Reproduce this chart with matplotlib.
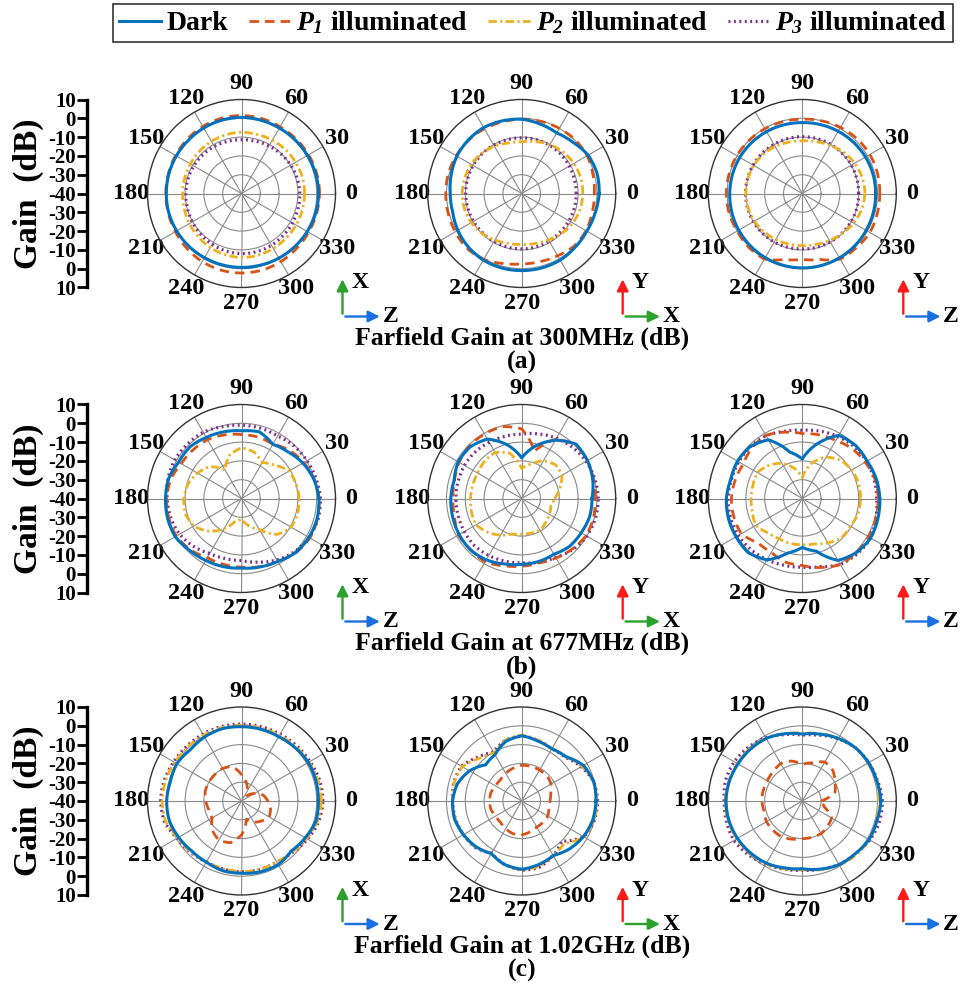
import numpy as np
import matplotlib
matplotlib.use("Agg")
import matplotlib.pyplot as plt
from matplotlib.lines import Line2D
from matplotlib.patches import FancyArrowPatch

plt.rcParams['font.family'] = ['Liberation Serif', 'DejaVu Serif']
plt.rcParams['font.weight'] = 'bold'
plt.rcParams['mathtext.fontset'] = 'custom'
plt.rcParams['mathtext.it'] = 'Liberation Serif:italic:bold'
plt.rcParams['mathtext.rm'] = 'Liberation Serif:italic:bold'
plt.rcParams['mathtext.bf'] = 'Liberation Serif:italic:bold'

# ---------------- data (gain in dB, angles 0..345 step 15) ----------------
angles_deg = list(range(0, 360, 15))

series_names = ['Dark', r'$P_1$ illuminated', r'$P_2$ illuminated', r'$P_3$ illuminated']
captions = ['Farfield Gain at 300MHz (dB)', 'Farfield Gain at 677MHz (dB)', 'Farfield Gain at 1.02GHz (dB)']
panel_tags = ['(a)', '(b)', '(c)']
theta_labels = ['0', '30', '60', '90', '120', '150', '180', '210', '240', '270', '300', '330']
gain_ticks = ['10', '0', '-10', '-20', '-30', '-40', '-30', '-20', '-10', '0', '10']
axis_up = ['X', 'Y', 'Y']
axis_right = ['Z', 'X', 'Z']

# 300 MHz
dark_300_1 = [1, 0.8, 0.5, 0.3, 0.2, 0.3, 0.5, 0.4, 0.2, 0, 0, 0, 0, 0, -0.2, -0.4, -0.6, -0.7, -0.7, -0.6, -0.3, 0, 0.4, 0.8]
p1_300_1 = [1.5, 1.4, 1.2, 1, 1, 1.3, 1.5, 1.4, 1.2, 0.8, 0.5, 0.3, 0.2, 0.3, 0.6, 1.2, 1.8, 2.2, 2.3, 2.2, 1.8, 1.4, 1.2, 1.3]
p2_300_1 = [-6.5, -6.5, -6.8, -7, -7.3, -7.5, -7.5, -7.7, -8, -8.3, -8.6, -8.7, -8.7, -8.5, -8, -7.5, -6.8, -6.3, -6, -6, -6.2, -6.5, -6.5, -6.5]
p3_300_1 = [-9, -9.3, -9.8, -10.3, -10.8, -11.2, -11.4, -11.3, -11.1, -10.9, -10.7, -10.5, -10.4, -10.2, -9.8, -9.3, -8.8, -8.3, -8, -8, -8.2, -8.5, -8.7, -8.9]

dark_300_2 = [1.2, 1.5, 0.8, -1.5, -2.8, -1.8, -0.5, 0, 0.5, 0.2, -0.2, -1.2, -2, -2, -0.8, 0.2, 0.9, 1, 1, 1, 0.9, 0.3, 0, 0.4]
p1_300_2 = [-1.4, -0.8, 0.2, 0.3, 0, -0.3, -0.5, -0.6, -0.3, 0, 0.2, 0.4, 0.4, 0.5, 0.8, 1.2, 0.5, -1.5, -2.6, -2.5, -1.8, -0.5, -0.5, -1.2]
p2_300_2 = [-7.5, -7.5, -8, -8.8, -10, -11.5, -12.5, -12.2, -11, -9.8, -9, -8.6, -8.4, -8.5, -9, -10, -11.5, -12.5, -13, -12.5, -11.5, -10, -8.6, -7.8]
p3_300_2 = [-11, -11, -10.8, -10.5, -10.4, -10.3, -10.4, -10.4, -10.3, -10.2, -10.2, -10.2, -10.2, -10.3, -10.4, -10.5, -10.5, -10.5, -10.5, -10.6, -10.8, -11, -11, -11]

dark_300_3 = [-1, -1, -1.2, -1.5, -1.8, -2.1, -2.3, -2.2, -2, -1.8, -1.6, -1.5, -1.4, -1.2, -1, -0.8, -0.6, -0.5, -0.4, -0.4, -0.5, -0.6, -0.8, -0.9]
p1_300_3 = [1.2, 1.4, 1.5, 1.2, 0.6, 0, -0.5, -0.4, -0.2, 0, 0.2, 0.3, 0.4, 0.3, 0, 0.4, 0.3, -3.7, -5, -3.7, 0.3, 0.7, 1.5, 1.3]
p2_300_3 = [-6.7, -7, -7.8, -9, -10.5, -11.5, -12, -11.8, -11.2, -10.6, -10.2, -10, -10, -10.2, -10.6, -11.2, -11.8, -12.2, -12.3, -12, -11.2, -10, -8.5, -7.3]
p3_300_3 = [-10, -10, -9.9, -9.9, -9.8, -9.8, -9.8, -9.8, -9.8, -9.8, -9.8, -9.8, -9.8, -9.9, -10, -10.1, -10.2, -10.4, -10.5, -10.4, -10.3, -10.2, -10.1, -10]

# 677 MHz
dark_677_1 = [1.2, -0.2, -2.3, -5, -6.7, -3.3, -4, -3.3, -2.5, -1.2, -1.4, 0.2, 0.4, 0.7, 0.7, -1, -2, -2.5, -3, -2.3, -1.4, 0.7, 1.4, 1.6]
p1_677_1 = [1.2, 0, -1.8, -3.8, -6.7, -6.2, -6, -5, -3.9, -3.5, -3, -1, -0.2, 0, 0, -1.5, -3.7, -3.7, -3.5, -2.5, -1.4, 0.8, 2, 1.8]
p2_677_1 = [-9.3, -10, -10.7, -15, -18, -14.4, -13, -16, -22.5, -16, -13, -10.5, -9.3, -9, -10.7, -15.4, -21.4, -27.7, -29, -25, -21, -13, -9.5, -9.1]
p3_677_1 = [2, 1, 0.2, -0.5, -1.6, -1.3, -1, -0.5, 0.7, 0.8, 1, 0.5, -0.5, -1, -2, -4, -6.2, -7, -7, -5, -2.3, 0, 1.5, 2.2]

dark_677_2 = [-2.6, -0.9, 0.4, 0.9, -4.2, -11, -18.4, -10.5, -3.5, -1.2, -1, -2.8, -2.3, -2, -1.6, -1.4, -2.3, -4, -5, -5.3, -5.8, -4, -3.5, -2.6]
p1_677_2 = [-1, -0.5, 0.3, 0.5, -3.5, -14, -3, -0.4, -0.4, -0.5, -1.5, -3, -3.5, -3, -1.2, -1.6, -1, -3, -4, -4.5, -3.5, -2, -0.5, -0.5]
p2_677_2 = [-22.5, -19, -15.3, -14.6, -16.8, -21, -24, -15, -11.8, -12, -13, -13, -12.8, -12.3, -12, -14.6, -17.5, -20.5, -21, -21, -20.5, -22, -23, -24]
p3_677_2 = [0.7, 0.3, -0.5, -1.6, -3, -4.5, -5.8, -5.8, -5.5, -5, -4.8, -5, -5, -5, -4.8, -4.5, -5, -5.5, -5.8, -5, -3.8, -1.6, 0, 0.6]

dark_677_3 = [1.2, 0.7, -0.2, 0, -1.2, -10, -19, -14.5, -4, -0.9, -0.2, -0.7, 0.4, 0.7, 0.7, 0.7, -2.3, -10, -14, -11, -2, 0.7, 2, 1.6]
p1_677_3 = [0.4, 0, -1.4, -2.5, -4.4, -5, -5.5, -3.5, -1.2, -2, -3.7, -3, -2.3, -2.3, -2.5, -6.7, -7, -5, -4.4, -2, 0.5, 0.7, 0.7, 0.5]
p2_677_3 = [-9, -9, -9.6, -11.2, -14.6, -20.5, -29, -23.3, -18.4, -15, -12.4, -12.8, -12.8, -12.5, -11.4, -14.2, -15.3, -15.3, -15.4, -15, -12.8, -10.5, -10.4, -9.3]
p3_677_3 = [-0.5, -0.5, -0.5, -1, -2, -3, -3.7, -3, -1.5, -1, -1, -1, -0.5, -0.5, -0.7, -1.5, -2.5, -3.2, -3.5, -2.5, 0.5, 1.5, 2, 0.5]

# 1.02 GHz
dark_102_1 = [0.9, 1, 1, 0.2, -0.5, -0.5, -0.5, -0.2, -0.7, -1.5, -0.3, -0.8, -0.2, -0.2, -1.4, -2.5, -2.5, -1.6, -1.6, -1, -0.9, -2.5, -0.9, 1]
p1_102_1 = [-26, -28, -32, -36, -34, -30, -26, -21, -20, -20, -20, -20, -21, -22, -22, -18, -16, -17, -22, -30, -27, -25, -23, -24]
p2_102_1 = [2.5, 2.2, 1.4, 0.8, 0.3, 0.2, 0.3, 0.4, 0.4, 0.5, 1, 1.8, 2.2, 1.8, -0.8, -1.8, -2.8, -2.7, -2.5, -2.4, -2.7, -1.8, 0, 1.8]
p3_102_1 = [3.3, 3, 2, 1.5, 1, 0.9, 0.9, 1, 1, 1.2, 1.6, 2.5, 3, 2.5, -0.5, -1.5, -2.6, -2.5, -2.3, -2.2, -2.6, -1.5, 0.5, 2.5]

dark_102_2 = [-0.5, -0.3, -2.1, -6.7, -8, -7, -5.3, -7.2, -11.6, -12.8, -7.9, -4.6, -3.2, -3, -4.2, -5.6, -7.7, -5, -3.7, -5, -6.5, -4, -2.1, -0.9]
p1_102_2 = [-25, -24, -22, -21, -21, -21, -21, -22, -23, -24, -24, -23, -23, -23, -24, -24, -23, -22, -22, -23, -24, -24, -24, -25]
p2_102_2 = [0, -0.5, -3, -6.8, -7.8, -6.5, -5, -6.5, -10.5, -8, -3.5, -2.8, -3.2, -3.4, -4.2, -5.2, -7.8, -4.8, -3.4, -4, -6.5, -8, -1.8, -0.3]
p3_102_2 = [0.4, -0.3, -3.5, -7.2, -8, -6.5, -5.3, -6.5, -10, -7, -3, -2.5, -3.2, -3.5, -4.2, -5, -8, -5, -3.2, -3.5, -6.5, -9.8, -1.8, 0]

dark_102_3 = [1.8, 1, 0.7, 0, -1.6, -3.2, -4.4, -3, -1.6, -1, -0.5, 0.2, 0.7, 0.4, -0.2, -1, -1.8, -3.2, -4, -2.5, -0.9, -0.3, 1, 1]
p1_102_3 = [-30, -22, -20, -17, -16, -19, -20.5, -18, -17, -18, -18.5, -18.5, -18.5, -19, -18, -18, -18, -19, -20, -20, -20, -21, -22, -28]
p2_102_3 = [0.5, 1.2, 0.8, 0, -1.5, -3, -4, -3, -1.4, -0.6, 0, 0.5, 1, 0.8, 0.3, -0.6, -1.4, -2.6, -3.5, -2.3, -0.6, 0.5, 1.2, 0.8]
p3_102_3 = [2.6, 1.5, 0.8, 0, -1.8, -3.8, -5, -3.5, -1.2, 0.5, 1.8, 2.3, 1.5, 1.8, 2, 0.5, -1.2, -2.5, -3.2, -2.4, -1, -0.2, 1.5, 2.5]

panels = [
    [(dark_300_1, p1_300_1, p2_300_1, p3_300_1),
     (dark_300_2, p1_300_2, p2_300_2, p3_300_2),
     (dark_300_3, p1_300_3, p2_300_3, p3_300_3)],
    [(dark_677_1, p1_677_1, p2_677_1, p3_677_1),
     (dark_677_2, p1_677_2, p2_677_2, p3_677_2),
     (dark_677_3, p1_677_3, p2_677_3, p3_677_3)],
    [(dark_102_1, p1_102_1, p2_102_1, p3_102_1),
     (dark_102_2, p1_102_2, p2_102_2, p3_102_2),
     (dark_102_3, p1_102_3, p2_102_3, p3_102_3)],
]

# ---------------- styles ----------------
colors = ['#0072BD', '#D95319', '#EDB120', '#7E2F8E']
styles = [dict(ls='-', lw=2.2),
          dict(ls=(0, (3.4, 2.2)), lw=2.0),
          dict(ls=(0, (3.0, 1.2, 0.8, 1.2)), lw=2.0),
          dict(ls=(0, (0.6, 1.1)), lw=2.3)]
arrow_up_col = ['#2ca02c', '#ff1a1a', '#ff1a1a']
arrow_right_col = ['#1a6fe0', '#2ca02c', '#1a6fe0']

W, H = 964, 984
R = 94
col_x = [241.5, 521.7, 802.3]
row_y = [193.5, 498.5, 801.0]

fig = plt.figure(figsize=(W / 100, H / 100), dpi=100)


def fx(px):
    return px / W


def fy(py):
    return 1 - py / H


theta = np.deg2rad(np.array(angles_deg + [360]))

for i in range(3):
    cy = row_y[i]
    for j in range(3):
        cx = col_x[j]
        ax = fig.add_axes([fx(cx - R), fy(cy + R), 2 * R / W, 2 * R / H], projection='polar')
        for k, vals in enumerate(panels[i][j]):
            r = np.array(list(vals) + [vals[0]])
            ln, = ax.plot(theta, r, color=colors[k], **styles[k], zorder=3 + (3 - k) * 0.1)
            ln.get_path()._interpolation_steps = 16
        ax.set_ylim(-40, 10)
        ax.set_rticks([-30, -20, -10, 0])
        ax.set_yticklabels([])
        ax.set_thetagrids(range(0, 360, 30), theta_labels, fontsize=17.5, fontweight='bold')
        ax.tick_params(axis='x', pad=1)
        ax.grid(True, color='#8a8a8a', lw=0.8)
        ax.spines['polar'].set_color('#333333')
        ax.spines['polar'].set_linewidth(1.0)

        # coordinate icon
        ox, oy = cx + 101, cy + 123
        fig.add_artist(FancyArrowPatch((fx(ox), fy(oy)), (fx(ox), fy(oy - 40)),
                                       transform=fig.transFigure, arrowstyle='-|>',
                                       mutation_scale=17, color=arrow_up_col[j], lw=1.7))
        fig.add_artist(FancyArrowPatch((fx(ox), fy(oy)), (fx(ox + 40), fy(oy)),
                                       transform=fig.transFigure, arrowstyle='-|>',
                                       mutation_scale=17, color=arrow_right_col[j], lw=1.7))
        fig.text(fx(ox + 9), fy(oy - 34), axis_up[j], fontsize=17, fontweight='bold',
                 ha='left', va='center')
        fig.text(fx(ox + 40), fy(oy), axis_right[j], fontsize=17, fontweight='bold',
                 ha='left', va='center')

    # left gain scale
    gax = fig.add_axes([fx(87), fy(cy + R), 0.001, 2 * R / H])
    gax.set_ylim(-5, 5)
    gax.set_xlim(0, 1)
    for s in ['top', 'right', 'bottom']:
        gax.spines[s].set_visible(False)
    gax.spines['left'].set_linewidth(2.4)
    gax.patch.set_visible(False)
    gax.set_xticks([])
    gax.set_yticks(np.arange(5, -6, -1))
    gax.set_yticklabels(gain_ticks, fontsize=15, fontweight='bold')
    gax.tick_params(axis='y', direction='out', length=7, width=2, pad=1)
    gax.set_ylabel('Gain  (dB)', fontsize=24, fontweight='bold', labelpad=3)

    fig.text(fx(col_x[1]), fy(cy + 145), captions[i], fontsize=18.5, fontweight='bold',
             ha='center', va='center')
    fig.text(fx(col_x[1]), fy(cy + 169), panel_tags[i], fontsize=18.5, fontweight='bold',
             ha='center', va='center')

handles = [Line2D([], [], color=colors[k], **styles[k]) for k in range(4)]
leg = fig.legend(handles, series_names, loc='upper center', bbox_to_anchor=(fx(533), fy(4)),
                 ncol=4, frameon=True, fancybox=False, edgecolor='black',
                 prop={'family': 'Liberation Serif', 'weight': 'bold', 'size': 20},
                 handlelength=1.5, handletextpad=0.2, columnspacing=0.75, borderpad=0.2,
                 borderaxespad=0)
leg.get_frame().set_linewidth(1.2)

fig.savefig('out.png', dpi=100)
